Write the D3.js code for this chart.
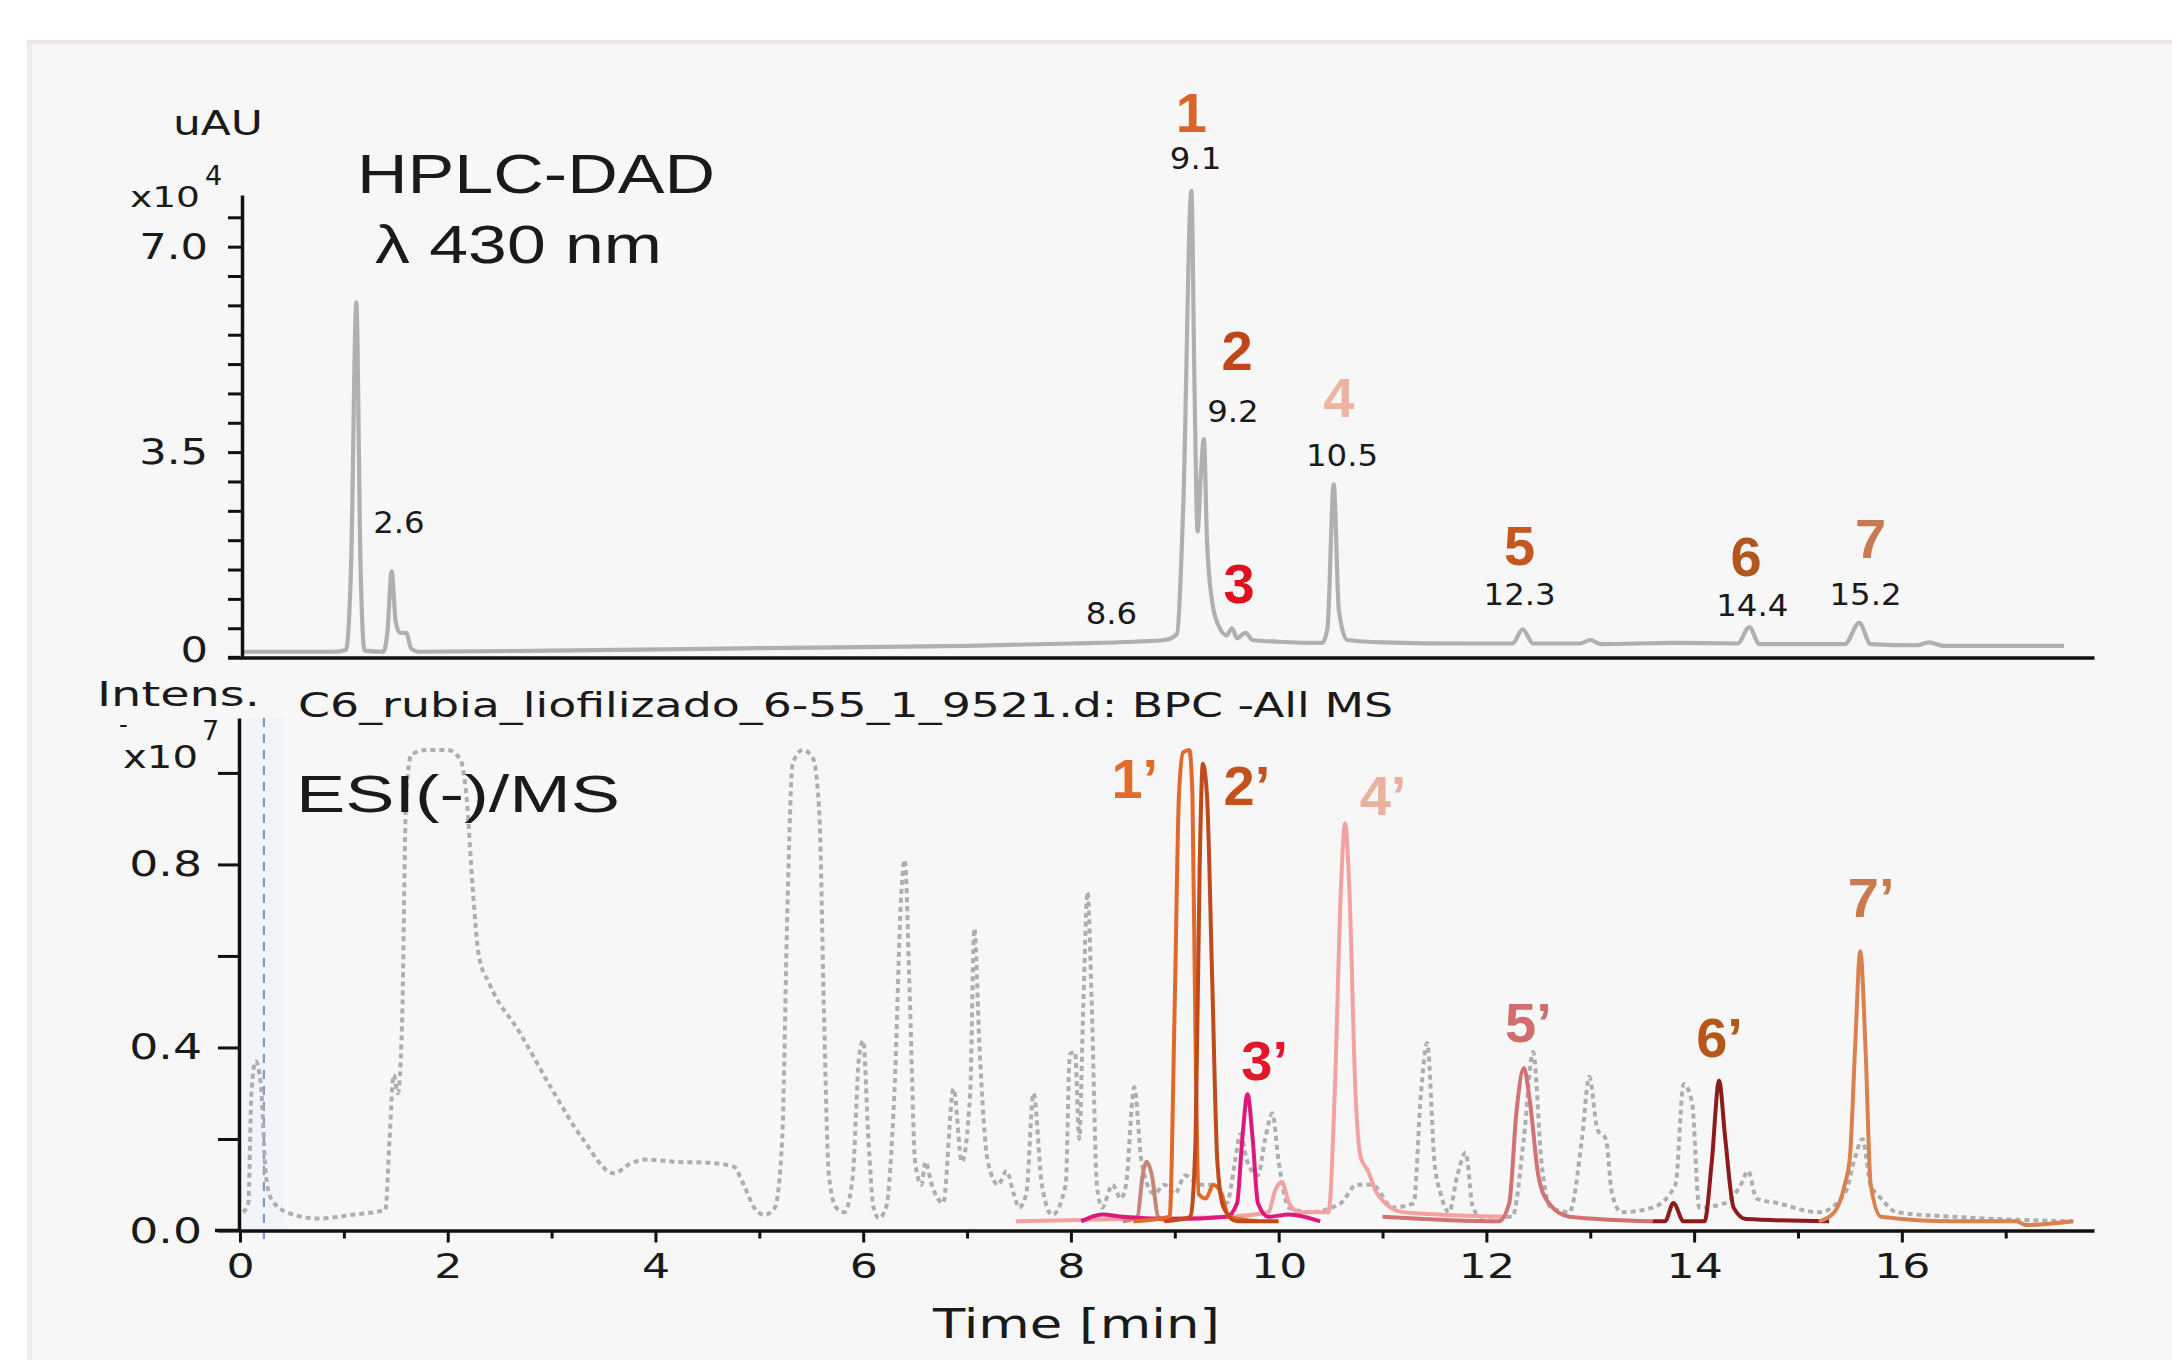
<!DOCTYPE html>
<meta charset="utf-8">
<script src="https://d3js.org/d3.v7.min.js"></script>
<style>
  body { margin: 0; background: #fff; }
  svg { display: block; }
</style>
<div id="chart"></div>
<script>
  // ---------------- data ----------------
  // time axis (min)
  var timeTicks = d3.range(0, 18);
  var timeLabels = [0, 2, 4, 6, 8, 10, 12, 14, 16];

  // HPLC-DAD axis (x10^4 uAU)
  var dadTicks = d3.range(0, 7.51, 0.5);
  var dadLabelValues = [0, 3.5, 7];
  var dadLabelText = ["0", "3.5", "7.0"];

  // ESI(-)/MS axis (x10^7 intensity)
  var msTicks = [0, 0.2, 0.4, 0.6, 0.8, 1.0];
  var msLabelValues = [0, 0.4, 0.8];
  var msLabelText = ["0.0", "0.4", "0.8"];

  // HPLC-DAD trace, [time, x10^4 uAU]
  var dadTrace = [[0.02, 0.10], [0.9, 0.10], [1.02, 0.13], [1.07, 1.6], [1.12, 6.05], [1.16, 1.6], [1.2, 0.12],
    [1.38, 0.1], [1.42, 0.45], [1.46, 1.47], [1.5, 0.6], [1.54, 0.42], [1.6, 0.42], [1.65, 0.15], [1.72, 0.1],
    [3.0, 0.12], [5.0, 0.16], [7.0, 0.2], [8.0, 0.24], [8.6, 0.27], [8.9, 0.3], [9.02, 0.4], [9.08, 2.5],
    [9.16, 7.95], [9.19, 4.6], [9.22, 2.15], [9.25, 3.1], [9.28, 3.72], [9.31, 2.0], [9.36, 0.95], [9.42, 0.55],
    [9.5, 0.38], [9.55, 0.5], [9.6, 0.33], [9.68, 0.42], [9.75, 0.3], [10.0, 0.27], [10.42, 0.25], [10.47, 0.5],
    [10.53, 2.95], [10.58, 0.8], [10.66, 0.3], [11.0, 0.26], [11.8, 0.24], [12.25, 0.24], [12.35, 0.48],
    [12.45, 0.24], [12.9, 0.24], [13.0, 0.3], [13.1, 0.23], [13.8, 0.25], [14.42, 0.24], [14.53, 0.52],
    [14.63, 0.23], [15.45, 0.23], [15.59, 0.59], [15.7, 0.23], [16.15, 0.21], [16.26, 0.26], [16.4, 0.2], [17.56, 0.2]];

  // BPC -All MS trace, [time, x10^7]
  var bpcTrace = [[0.03, 0.04], [0.08, 0.06], [0.11, 0.3], [0.15, 0.37], [0.2, 0.32], [0.25, 0.12], [0.3, 0.07],
    [0.45, 0.04], [0.75, 0.026], [1.1, 0.035], [1.4, 0.045], [1.44, 0.2], [1.48, 0.34], [1.52, 0.3], [1.56, 0.45],
    [1.6, 0.95], [1.65, 1.04], [1.8, 1.05], [2.0, 1.05], [2.12, 1.03], [2.18, 0.95], [2.24, 0.75], [2.3, 0.6],
    [2.4, 0.54], [2.7, 0.43], [3.0, 0.31], [3.3, 0.2], [3.6, 0.125], [3.75, 0.145], [3.9, 0.155], [4.2, 0.15],
    [4.5, 0.148], [4.75, 0.14], [4.85, 0.1], [4.95, 0.05], [5.05, 0.034], [5.15, 0.05], [5.22, 0.2], [5.27, 0.7],
    [5.32, 1.02], [5.42, 1.05], [5.52, 1.03], [5.58, 0.9], [5.62, 0.5], [5.67, 0.12], [5.74, 0.05], [5.82, 0.04],
    [5.9, 0.12], [5.96, 0.38], [6.0, 0.415], [6.05, 0.2], [6.1, 0.05], [6.15, 0.027], [6.22, 0.05], [6.3, 0.3],
    [6.37, 0.75], [6.4, 0.81], [6.45, 0.5], [6.5, 0.15], [6.56, 0.1], [6.6, 0.15], [6.66, 0.1], [6.77, 0.06],
    [6.87, 0.31], [6.95, 0.15], [7.03, 0.3], [7.07, 0.66], [7.12, 0.4], [7.2, 0.15], [7.3, 0.1], [7.38, 0.13],
    [7.45, 0.08], [7.5, 0.05], [7.57, 0.08], [7.64, 0.3], [7.72, 0.1], [7.82, 0.034], [7.95, 0.1], [7.99, 0.385],
    [8.04, 0.39], [8.08, 0.2], [8.12, 0.5], [8.16, 0.74], [8.2, 0.5], [8.25, 0.1], [8.3, 0.05], [8.4, 0.1],
    [8.48, 0.07], [8.53, 0.1], [8.61, 0.313], [8.68, 0.15], [8.8, 0.08], [8.9, 0.1], [9.0, 0.08], [9.1, 0.12],
    [9.25, 0.1], [9.4, 0.1], [9.5, 0.06], [9.58, 0.15], [9.63, 0.21], [9.7, 0.15], [9.8, 0.12], [9.87, 0.2],
    [9.94, 0.256], [10.0, 0.15], [10.1, 0.05], [10.3, 0.04], [10.6, 0.06], [10.75, 0.1], [10.9, 0.1], [11.1, 0.05],
    [11.3, 0.06], [11.37, 0.3], [11.43, 0.41], [11.5, 0.15], [11.56, 0.08], [11.64, 0.04], [11.72, 0.12],
    [11.8, 0.17], [11.87, 0.05], [11.95, 0.03], [12.25, 0.03], [12.36, 0.2], [12.45, 0.39], [12.53, 0.15],
    [12.62, 0.05], [12.8, 0.04], [12.92, 0.2], [12.99, 0.336], [13.07, 0.22], [13.15, 0.2], [13.21, 0.08],
    [13.3, 0.04], [13.6, 0.05], [13.82, 0.1], [13.9, 0.32], [13.98, 0.28], [14.05, 0.05], [14.3, 0.06],
    [14.45, 0.1], [14.52, 0.13], [14.6, 0.07], [14.8, 0.06], [15.2, 0.04], [15.45, 0.08], [15.55, 0.16],
    [15.62, 0.2], [15.7, 0.1], [15.8, 0.07], [15.95, 0.04], [16.5, 0.03], [17.65, 0.02]];

  // extracted ion traces, [time, x10^7]
  var eic4 = [[7.47, 0.02], [8.5, 0.025], [9.5, 0.03], [9.9, 0.04], [9.97, 0.09], [10.03, 0.106], [10.1, 0.06],
    [10.2, 0.04], [10.48, 0.04], [10.54, 0.3], [10.6, 0.75], [10.64, 0.89], [10.68, 0.75], [10.74, 0.3],
    [10.79, 0.16], [10.86, 0.13], [10.95, 0.08], [11.2, 0.04], [12.2, 0.03]];
  var eicMinor = [[8.5, 0.02], [8.64, 0.03], [8.69, 0.12], [8.73, 0.15], [8.78, 0.12], [8.84, 0.03], [8.95, 0.02]];
  var eic5 = [[11.0, 0.03], [12.12, 0.02], [12.22, 0.06], [12.29, 0.26], [12.36, 0.355], [12.42, 0.28],
    [12.5, 0.12], [12.6, 0.06], [12.8, 0.03], [13.6, 0.02]];
  var eic3 = [[8.1, 0.02], [8.3, 0.035], [8.5, 0.03], [9.0, 0.025], [9.5, 0.03], [9.6, 0.06], [9.65, 0.2],
    [9.7, 0.298], [9.75, 0.2], [9.8, 0.06], [9.9, 0.03], [10.1, 0.035], [10.4, 0.02]];
  var eic1 = [[8.6, 0.02], [8.95, 0.03], [9.0, 0.5], [9.04, 0.95], [9.08, 1.045], [9.14, 1.05], [9.17, 0.95],
    [9.2, 0.4], [9.23, 0.08], [9.3, 0.07], [9.37, 0.1], [9.45, 0.08], [9.52, 0.03], [9.8, 0.02]];
  var eic2 = [[8.9, 0.02], [9.15, 0.03], [9.2, 0.2], [9.24, 0.8], [9.27, 1.02], [9.31, 0.95], [9.36, 0.55],
    [9.41, 0.15], [9.47, 0.05], [9.6, 0.02], [10.0, 0.02]];
  var eic6 = [[13.6, 0.02], [13.72, 0.02], [13.8, 0.06], [13.9, 0.02], [14.1, 0.02], [14.17, 0.15], [14.24, 0.327],
    [14.3, 0.2], [14.38, 0.05], [14.5, 0.025], [15.3, 0.02]];
  var eic7 = [[15.2, 0.02], [15.35, 0.04], [15.45, 0.1], [15.5, 0.16], [15.55, 0.4], [15.6, 0.61], [15.65, 0.4],
    [15.7, 0.1], [15.8, 0.03], [16.5, 0.02], [17.1, 0.02], [17.2, 0.012], [17.65, 0.02]];

  // peak names and retention-time labels
  var dadPeakNames = ["1", "2", "3", "4", "5", "6", "7"];
  var dadRtLabels = ["2.6", "8.6", "9.1", "9.2", "10.5", "12.3", "14.4", "15.2"];
  var msPeakNames = ["1\u2019", "2\u2019", "3\u2019", "4\u2019", "5\u2019", "6\u2019", "7\u2019"];
  var msMarkerTime = 0.23;

  // ---------------- layout ----------------
  var W = 2172, H = 1360;
  // label anchors in data units [time, value]
  var dadPeakPos = [[9.16, 8.95], [9.60, 4.90], [9.62, 0.93], [10.58, 4.10], [12.32, 1.58], [14.50, 1.39], [15.70, 1.70]];
  var dadRtPos = [[1.53, 2.12], [8.39, 0.57], [9.20, 8.32], [9.56, 4.01], [10.61, 3.26], [12.32, 0.90], [14.56, 0.71], [15.65, 0.90]];
  var msPeakPos = [[8.39, 0.945], [9.47, 0.93], [9.64, 0.329], [10.78, 0.908], [12.18, 0.412], [14.02, 0.379], [15.48, 0.686]];
  var dadPeakColors = ["#dd6428", "#c0461a", "#e0101e", "#ecb5a1", "#c4561e", "#b0561e", "#c87a52"];
  var msPeakColors = ["#e06b2a", "#c4501e", "#e01828", "#eab29e", "#cf6e6e", "#b6561a", "#c97a4e"];

  var svg = d3.select("#chart").append("svg").attr("width", W).attr("height", H);

  // panel background
  svg.append("rect").attr("x", 27).attr("y", 40).attr("width", W - 27).attr("height", H - 40).attr("fill", "#f7f7f7");
  svg.append("rect").attr("x", 27).attr("y", 40).attr("width", 5).attr("height", H - 40).attr("fill", "#ededed");
  svg.append("rect").attr("x", 27).attr("y", 40).attr("width", W - 27).attr("height", 4).attr("fill", "#ece6e6");

  // scales
  var x = d3.scaleLinear().domain([0, 17.85]).range([240, 2094]);
  var yTop = d3.scaleLinear().domain([0, 7.88]).range([657.6, 195]);
  var yBot = d3.scaleLinear().domain([0, 1.12]).range([1230.5, 718]);

  var lineTop = d3.line().x(function(d) { return x(d[0]); }).y(function(d) { return yTop(d[1]); }).curve(d3.curveMonotoneX);
  var lineBot = d3.line().x(function(d) { return x(d[0]); }).y(function(d) { return yBot(d[1]); }).curve(d3.curveMonotoneX);

  function stretch(sel, k) {
    sel.each(function() {
      var w = this.getComputedTextLength();
      if (w > 0) d3.select(this).attr("textLength", w * k).attr("lengthAdjust", "spacingAndGlyphs");
    });
  }

  function label(str, px, py, size, opts) {
    opts = opts || {};
    var t = svg.append("text").attr("x", px).attr("y", py)
      .attr("font-family", opts.family || "DejaVu Sans")
      .attr("font-size", size)
      .attr("font-weight", opts.weight || "normal")
      .attr("fill", opts.fill || "#1a1a1a")
      .attr("text-anchor", opts.anchor || "start")
      .text(str);
    if (opts.width) t.attr("textLength", opts.width).attr("lengthAdjust", "spacingAndGlyphs");
    return t;
  }

  // ---------------- top chart: HPLC-DAD ----------------
  svg.append("path").datum(dadTrace).attr("d", lineTop)
    .attr("fill", "none").attr("stroke", "#b0b0b0").attr("stroke-width", 4.2).attr("stroke-linejoin", "round");

  var gTopX = svg.append("g").attr("transform", "translate(0," + yTop(0) + ")")
    .call(d3.axisBottom(x).tickValues([]).tickSizeOuter(0));
  svg.append("line").attr("x1", 228).attr("x2", x(0)).attr("y1", yTop(0)).attr("y2", yTop(0))
    .attr("stroke", "#111").attr("stroke-width", 3.5);

  var gTopY = svg.append("g").attr("transform", "translate(242,0)")
    .call(d3.axisLeft(yTop).tickValues(dadTicks).tickSize(14).tickSizeOuter(0).tickPadding(20)
      .tickFormat(function(d) { var i = dadLabelValues.indexOf(d); return i < 0 ? "" : dadLabelText[i]; }));

  // ---------------- bottom chart: ESI(-)/MS ----------------
  svg.append("rect").attr("x", x(msMarkerTime) - 20).attr("y", yBot(1.12)).attr("width", 40)
    .attr("height", yBot(0) - yBot(1.12)).attr("fill", "#f1f4f9");
  svg.append("line").attr("x1", x(msMarkerTime)).attr("x2", x(msMarkerTime)).attr("y1", yBot(1.12)).attr("y2", 1246)
    .attr("stroke", "#7f9cc2").attr("stroke-width", 2.2).attr("stroke-dasharray", "9,7");

  svg.append("path").datum(bpcTrace).attr("d", lineBot)
    .attr("fill", "none").attr("stroke", "#aeaeae").attr("stroke-width", 4).attr("stroke-dasharray", "5,4");

  var eics = [
    { data: eic4, color: "#f2a2a0" },
    { data: eicMinor, color: "#c48676" },
    { data: eic5, color: "#d27272" },
    { data: eic3, color: "#e0187c" },
    { data: eic1, color: "#e2692a" },
    { data: eic2, color: "#bf4a1a" },
    { data: eic6, color: "#8e1b1b" },
    { data: eic7, color: "#d9814f" }
  ];
  svg.selectAll("path.eic").data(eics).enter().append("path").attr("class", "eic")
    .attr("d", function(d) { return lineBot(d.data); })
    .attr("fill", "none").attr("stroke", function(d) { return d.color; })
    .attr("stroke-width", 4).attr("stroke-linejoin", "round");

  var gBotX = svg.append("g").attr("transform", "translate(0," + yBot(0) + ")")
    .call(d3.axisBottom(x).tickValues(timeTicks).tickSize(12).tickSizeOuter(0).tickPadding(11)
      .tickFormat(function(d) { return timeLabels.indexOf(d) < 0 ? "" : String(d); }));
  gBotX.selectAll(".tick line").attr("y2", function(d) { return d % 2 ? 8 : 12; });
  svg.append("line").attr("x1", 215).attr("x2", x(0)).attr("y1", yBot(0)).attr("y2", yBot(0))
    .attr("stroke", "#111").attr("stroke-width", 3.5);

  var gBotY = svg.append("g").attr("transform", "translate(239,0)")
    .call(d3.axisLeft(yBot).tickValues(msTicks).tickSize(21).tickSizeOuter(0).tickPadding(16)
      .tickFormat(function(d) { var i = msLabelValues.indexOf(d); return i < 0 ? "" : msLabelText[i]; }));

  // axis styling
  [gTopX, gTopY, gBotX, gBotY].forEach(function(g) {
    g.attr("font-family", "DejaVu Sans").attr("font-size", 36);
    g.selectAll("path.domain").attr("stroke", "#111").attr("stroke-width", 3.5);
    g.selectAll(".tick line").attr("stroke", "#111").attr("stroke-width", 3);
    g.selectAll(".tick text").attr("fill", "#1a1a1a");
  });
  gBotX.attr("font-size", 34);
  // keep the top "0" clear of the "Intens." title below it
  gTopY.selectAll(".tick text").filter(function(d) { return d === 0; }).attr("dy", "0.12em");
  stretch(gTopY.selectAll(".tick text"), 1.2);
  stretch(gBotY.selectAll(".tick text"), 1.27);
  stretch(gBotX.selectAll(".tick text"), 1.3);

  // ---------------- peak labels ----------------
  svg.selectAll("text.dadpk").data(dadPeakNames).enter().append("text").attr("class", "dadpk")
    .attr("x", function(d, i) { return x(dadPeakPos[i][0]); })
    .attr("y", function(d, i) { return yTop(dadPeakPos[i][1]); })
    .attr("text-anchor", "middle").attr("font-family", "Liberation Sans").attr("font-weight", "bold")
    .attr("font-size", 56).attr("fill", function(d, i) { return dadPeakColors[i]; })
    .text(function(d) { return d; });

  svg.selectAll("text.dadrt").data(dadRtLabels).enter().append("text").attr("class", "dadrt")
    .attr("x", function(d, i) { return x(dadRtPos[i][0]); })
    .attr("y", function(d, i) { return yTop(dadRtPos[i][1]); })
    .attr("text-anchor", "middle").attr("font-family", "DejaVu Sans")
    .attr("font-size", 30).attr("fill", "#1a1a1a")
    .text(function(d) { return d; });
  stretch(svg.selectAll("text.dadrt"), 1.08);

  svg.selectAll("text.mspk").data(msPeakNames).enter().append("text").attr("class", "mspk")
    .attr("x", function(d, i) { return x(msPeakPos[i][0]); })
    .attr("y", function(d, i) { return yBot(msPeakPos[i][1]); })
    .attr("font-family", "Liberation Sans").attr("font-weight", "bold")
    .attr("font-size", 56).attr("fill", function(d, i) { return msPeakColors[i]; })
    .text(function(d) { return d; });

  // ---------------- titles and units ----------------
  label("uAU", 173, 135, 34, { width: 90 });
  label("x10", 130, 207, 29, { width: 70 });
  label("4", 205, 185, 27);
  label("HPLC-DAD", 357, 193, 56, { family: "Liberation Sans", width: 358 });
  label("\u03bb 430 nm", 375, 263, 54, { family: "Liberation Sans", width: 287 });

  label("Intens.", 97, 706, 34, { width: 163 });
  label("C6_rubia_liofilizado_6-55_1_9521.d: BPC -All MS", 298, 717, 33, { width: 1095 });
  label("-", 119, 733, 24);
  label("7", 202, 740, 27);
  label("x10", 123, 768, 32, { width: 75 });
  label("ESI(-)/MS", 296, 812, 52, { family: "Liberation Sans", width: 324 });
  label("Time [min]", 933, 1338, 41, { width: 287 });
</script>
